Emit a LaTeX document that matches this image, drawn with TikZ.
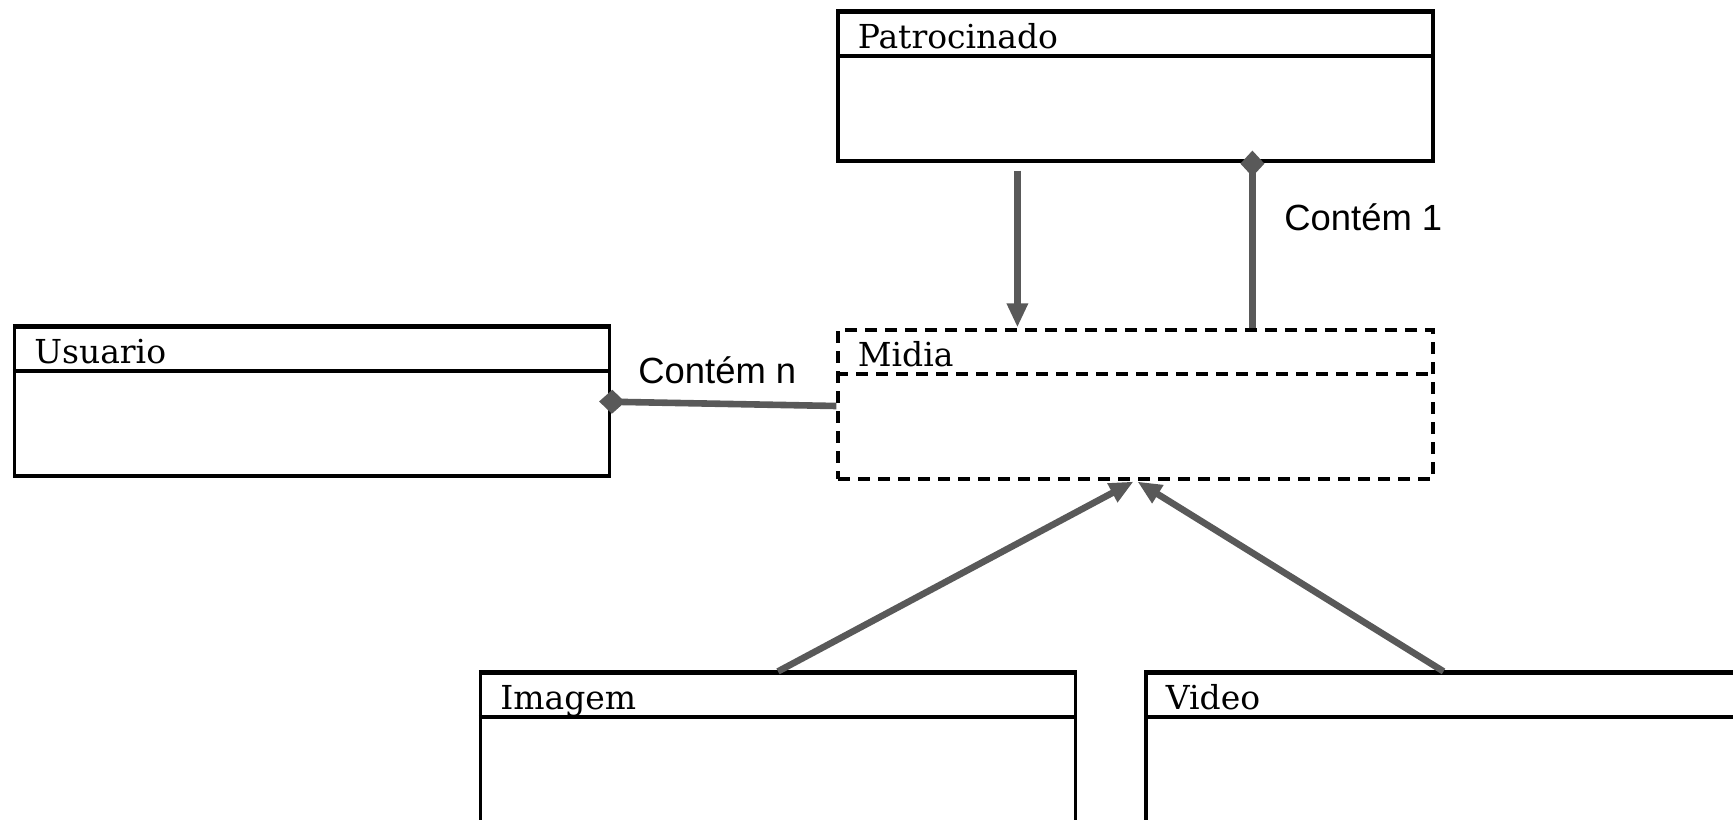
\documentclass[tikz,border=0pt]{standalone}
\usepackage{fontspec}
\setmainfont{DejaVu Serif}
\newfontfamily\labelfont{Liberation Sans}
\usetikzlibrary{arrows.meta,calc}

\definecolor{linkgray}{HTML}{595959}

\tikzset{
  classbox/.style={draw=black, line width=1.6pt, rectangle,
    minimum width=297.5pt, minimum height=74.5pt, inner sep=0pt},
  abstractbox/.style={classbox, dashed, dash pattern=on 6pt off 4pt},
  classtitle/.style={anchor=base west, inner sep=0pt,
    font=\fontsize{16.5}{18}\selectfont},
  linklabel/.style={anchor=west, inner sep=0pt,
    font=\labelfont\fontsize{18.2}{20}\selectfont},
  link/.style={draw=linkgray, line width=3.3pt},
  inherit/.style={link, -{Triangle[length=12pt,width=10pt]}},
  compose/.style={link, -{Diamond[length=13pt,width=12pt]}},
}

% compartment divider and heavier top border of a class box
\newcommand{\classparts}[2]{%
  \draw[line width=2pt, #2] ($(#1.north west)+(0,46)$) -- ($(#1.north east)+(0,46)$);
  \draw[line width=2.6pt, #2] ($(#1.north west)+(0,1)$) -- ($(#1.north east)+(0,1)$);
}

\begin{document}
\begin{tikzpicture}[x=0.5pt, y=-0.5pt]
  \useasboundingbox (0,0) rectangle (1733,819);

  % classes
  \node[classbox]    (pat) at (1135.5, 86.5) {};
  \node[classbox]    (usu) at (312, 401.5) {};
  \node[abstractbox] (mid) at (1135.5, 404.5) {};
  \node[classbox]    (img) at (778, 747.5) {};
  \node[classbox]    (vid) at (1443.5, 747.5) {};

  \classparts{pat}{}
  \classparts{usu}{}
  \draw[line width=2pt, dashed, dash pattern=on 6pt off 4pt]
    ($(mid.north west)+(0,46)$) -- ($(mid.north east)+(0,46)$);
  \classparts{img}{}
  \classparts{vid}{}

  \node[classtitle] (patt) at ($(pat.north west)+(21,38)$) {Patrocinado};
  \node[classtitle] (usut) at ($(usu.north west)+(21,38)$) {Usuario};
  \node[classtitle] (midt) at ($(mid.north west)+(21,38)$) {Midia};
  \node[classtitle] (imgt) at ($(img.north west)+(21,38)$) {Imagem};
  \node[classtitle] (vidt) at ($(vid.north west)+(21,38)$) {Video};

  % associations
  \coordinate (patdown) at ($(pat.south west)+(181,8)$);
  \coordinate (midtop)  at ($(mid.north west)+(181,-1)$);
  \draw[inherit] (patdown) -- (midtop);

  \coordinate (midcont) at ($(mid.north west)+(416,0)$);
  \coordinate (patcont) at ($(pat.south west)+(416,-12)$);
  \draw[compose] (midcont) -- (patcont);

  \coordinate (midleft) at ($(mid.west)+(0,1.5)$);
  \coordinate (usuright) at ($(usu.east)+(-12,0)$);
  \draw[compose] (midleft) -- (usuright);

  \coordinate (midbotl) at ($(mid.south)+(-2,1)$);
  \coordinate (midbotr) at ($(mid.south)+(2,1)$);
  \draw[inherit] (img.north) -- (midbotl);
  \draw[inherit] (vid.north) -- (midbotr);

  % labels
  \node[linklabel] (lbl1) at (1284, 217) {Contém 1};
  \node[linklabel] (lbln) at (638, 370) {Contém n};
\end{tikzpicture}
\end{document}
